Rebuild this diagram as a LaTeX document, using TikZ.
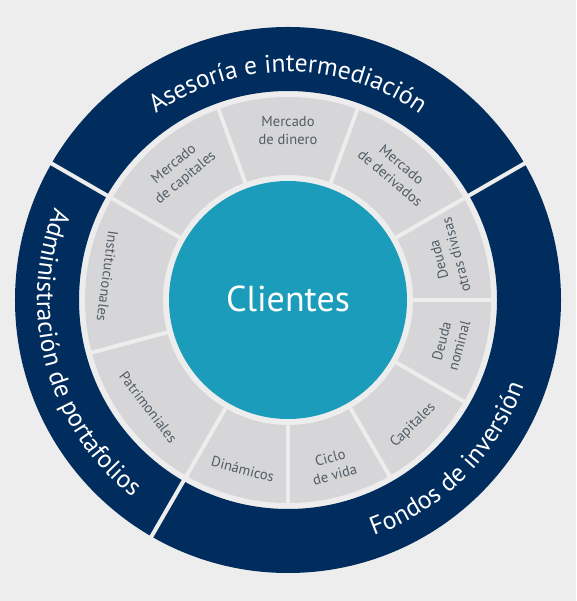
\documentclass[tikz,border=0pt]{standalone}
\usepackage{fontspec}
\setmainfont{PT Sans}
\usetikzlibrary{decorations.text}
\definecolor{bg}{RGB}{237,237,237}
\definecolor{navy}{RGB}{0,45,94}
\definecolor{tealc}{RGB}{26,156,186}
\definecolor{seg}{RGB}{214,214,216}
\definecolor{lbl}{RGB}{82,92,102}
\newcommand{\outerfnt}{\fontsize{25.5}{25.5}\selectfont\color{white}}
\tikzset{
  lab/.style={text=lbl, font=\fontsize{14.5}{18}\selectfont, align=center, inner sep=0pt},
  gapline/.style={bg, line width=4pt},
  ringtext/.style={decorate, decoration={text along path, text align=center, text color=white, text={|\outerfnt|#1}}}
}
\begin{document}
\begin{tikzpicture}[x=1pt,y=1pt]
\fill[bg] (-288,-301) rectangle (288,300);
\useasboundingbox (-288,-301) rectangle (288,300);
% outer dark ring
\fill[navy,even odd rule] (0,0) circle[radius=273] (0,0) circle[radius=209];
\foreach \a in {30,150,240} \draw[gapline] (\a:205) -- (\a:277);
% gray ring
\fill[seg,even odd rule] (0,0) circle[radius=203] (0,0) circle[radius=125];
\foreach \a in {0,30,70,110,150,195,240,270,300,330} \draw[gapline] (\a:121) -- (\a:206);
% center
\node[circle, fill=tealc, minimum size=238pt, inner sep=0pt] (core) at (0,0) {};
\node[text=white, font=\fontsize{36}{36}\selectfont, inner sep=0pt] (clientes) at (0,1) {Clientes};
% segment labels
\node[lab] (dinero) at (90:169) {Mercado\\de dinero};
\node[lab, rotate=-40] (deriv) at (50:168) {Mercado\\de derivados};
\node[lab, rotate=105] (divisas) at (15:165) {Deuda\\otras divisas};
\node[lab, rotate=75] (nominal) at (345:168) {Deuda\\nominal};
\node[lab, rotate=45] (capfondos) at (315:177) {Capitales};
\node[lab, rotate=15] (ciclo) at (285:172) {Ciclo\\de vida};
\node[lab, rotate=-15] (dinamicos) at (255:175) {Dinámicos};
\node[lab, rotate=-52.5] (patrim) at (217.5:176) {Patrimoniales};
\node[lab, rotate=-97.5] (instit) at (172.5:182) {Institucionales};
\node[lab, rotate=40] (mcap) at (130:168) {Mercado\\de capitales};
% ring texts
\path[ringtext={Asesoría e intermediación}] (150:228) arc[start angle=150, end angle=30, radius=228];
\path[ringtext={Administración de portafolios}] (150:251) arc[start angle=150, end angle=240, radius=251];
\path[ringtext={Fondos de inversión}] (240:251) arc[start angle=240, end angle=390, radius=251];
\end{tikzpicture}
\end{document}
